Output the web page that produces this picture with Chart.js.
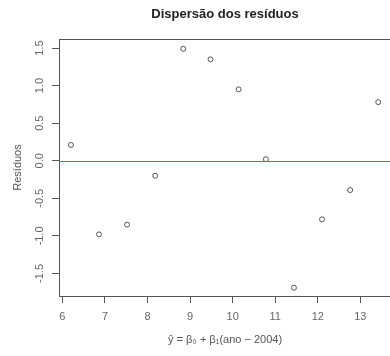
<!DOCTYPE html>
<html lang="pt">
<head>
<meta charset="UTF-8">
<title>Dispersão dos resíduos</title>
<script src="https://cdn.jsdelivr.net/npm/chart.js@4"></script>
<style>
  body { margin: 0; background: white; overflow: hidden; }
  .wrap { width: 390px; height: 356px; overflow: hidden; }
</style>
</head>
<body>
<div class="wrap"><canvas id="residuos" width="396" height="356"></canvas></div>
<script>
// valores ajustados e resíduos
const ajustados = [6.20, 6.86, 7.52, 8.18, 8.84, 9.48, 10.14, 10.78, 11.44, 12.10, 12.76, 13.42];
const residuos = [0.21, -0.98, -0.85, -0.20, 1.49, 1.35, 0.95, 0.02, -1.69, -0.78, -0.39, 0.78];
const xTicks = [6, 7, 8, 9, 10, 11, 12, 13];
const yTicks = [-1.5, -1.0, -0.5, 0.0, 0.5, 1.0, 1.5];
const xRange = [5.92, 13.72];
const yRange = [-1.80, 1.62];
const linhaRef = 0;

const fonte = '"Liberation Sans", Arial, sans-serif';

// box do gráfico, linha vermelha em 0 e título principal
const extras = {
    id: 'extras',
    beforeDatasetsDraw(chart) {
        const { ctx, chartArea: a } = chart;
        ctx.save();
        ctx.lineWidth = 1;
        ctx.strokeStyle = '#555';
        ctx.strokeRect(Math.round(a.left) + 0.5, Math.round(a.top) + 0.5,
            Math.round(a.right - a.left) - 1, Math.round(a.bottom - a.top));
        ctx.restore();
    },
    afterDraw(chart) {
        const { ctx, chartArea: a, scales } = chart;
        const y0 = Math.round(scales.y.getPixelForValue(linhaRef)) + 0.5;
        ctx.save();
        ctx.lineWidth = 1;
        ctx.strokeStyle = 'rgb(232, 64, 88)';
        ctx.beginPath();
        ctx.moveTo(a.left + 1, y0);
        ctx.lineTo(a.right, y0);
        ctx.stroke();
        ctx.restore();

        ctx.save();
        ctx.font = 'bold 13px ' + fonte;
        ctx.fillStyle = '#222';
        ctx.textAlign = 'center';
        ctx.textBaseline = 'middle';
        ctx.fillText('Dispersão dos resíduos', (a.left + a.right) / 2, 14);
        ctx.restore();
    }
};

new Chart(document.getElementById('residuos'), {
    type: 'scatter',
    data: {
        datasets: [{
            data: ajustados.map((x, i) => ({ x: x, y: residuos[i] })),
            pointStyle: 'circle',
            pointRadius: 2.5,
            borderWidth: 1,
            borderColor: '#555',
            backgroundColor: 'rgba(0,0,0,0)'
        }]
    },
    options: {
        responsive: false,
        animation: false,
        devicePixelRatio: 1,
        layout: { padding: { top: 39, left: 0, right: 0, bottom: 0 } },
        plugins: {
            legend: { display: false },
            tooltip: { enabled: false }
        },
        scales: {
            x: {
                type: 'linear',
                min: xRange[0],
                max: xRange[1],
                afterBuildTicks: s => { s.ticks = xTicks.map(v => ({ value: v })); },
                afterFit: s => { s.height = 60; s.paddingLeft = 0; s.paddingRight = 0; },
                border: { display: false },
                grid: { drawOnChartArea: false, drawTicks: true, tickLength: 7, tickColor: '#555' },
                ticks: {
                    color: '#666',
                    font: { family: fonte, size: 11 },
                    padding: 7,
                    maxRotation: 0,
                    minRotation: 0
                },
                title: {
                    display: true,
                    text: 'ŷ = β₀ + β₁(ano − 2004)',
                    color: '#555',
                    font: { family: fonte, size: 11 },
                    padding: { top: 9, bottom: 9 }
                }
            },
            y: {
                type: 'linear',
                min: yRange[0],
                max: yRange[1],
                afterBuildTicks: s => { s.ticks = yTicks.map(v => ({ value: v })); },
                afterFit: s => { s.width = 59; s.paddingTop = 0; s.paddingBottom = 0; },
                border: { display: false },
                grid: { drawOnChartArea: false, drawTicks: true, tickLength: 7, tickColor: '#555' },
                ticks: {
                    color: '#666',
                    font: { family: fonte, size: 11 },
                    padding: 3,
                    crossAlign: 'center',
                    minRotation: 90,
                    maxRotation: 90,
                    callback: v => v.toFixed(1)
                },
                title: {
                    display: true,
                    text: 'Resíduos',
                    color: '#555',
                    font: { family: fonte, size: 11 },
                    padding: { top: 11, bottom: 11 }
                }
            }
        }
    },
    plugins: [extras]
});
</script>
</body>
</html>
